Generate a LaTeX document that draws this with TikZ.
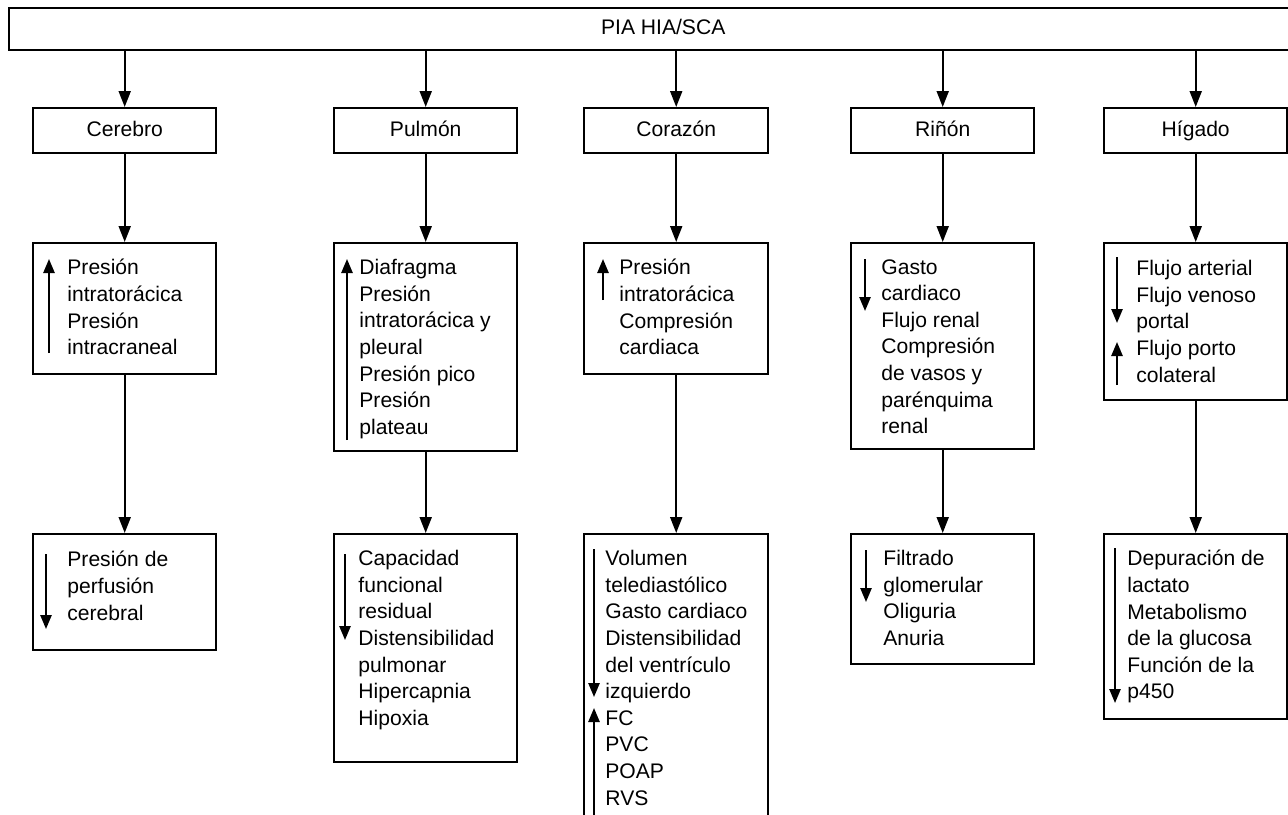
\documentclass[tikz,border=0pt]{standalone}
\usepackage{fontspec}
\setmainfont{Liberation Sans}
\usetikzlibrary{arrows.meta}

\tikzset{
  box/.style={draw, line width=1.2pt, anchor=north west, minimum width=91.5pt,
    inner sep=0pt, text height=7.7pt, text depth=2.2pt,
    font=\fontsize{10.55}{13.3}\selectfont},
  lst/.style={align=left, anchor=north west, inner sep=0pt,
    execute at begin node={\rule{0pt}{10pt}},
    font=\fontsize{10.55}{13.3}\selectfont},
  trend/.style={line width=1pt, -{Triangle[length=7pt,width=5.6pt]}},
}

\begin{document}
\begin{tikzpicture}[x=0.5pt,y=-0.5pt,>={Triangle[length=8pt,width=6pt]}]
    \useasboundingbox (0,0) rectangle (1288,814);

    % top bar
    \node[box, minimum width=654pt, minimum height=21pt] (pia) at (8,7) {PIA HIA/SCA};

    % organs
    \node[box, minimum height=22.5pt] (cer1) at (32,107) {Cerebro};
    \node[box, minimum height=22.5pt] (pul1) at (333,107) {Pulmón};
    \node[box, minimum height=22.5pt, minimum width=92pt] (cor1) at (583,107) {Corazón};
    \node[box, minimum height=22.5pt] (rin1) at (850,107) {Riñón};
    \node[box, minimum height=22.5pt] (hig1) at (1103,107) {Hígado};

    % second row
    \node[box, minimum height=65.5pt] (cer2) at (32,242) {};
    \node[box, minimum height=104pt] (pul2) at (333,242) {};
    \node[box, minimum height=65.5pt, minimum width=92pt] (cor2) at (583,242) {};
    \node[box, minimum height=103pt] (rin2) at (850,242) {};
    \node[box, minimum height=78.5pt] (hig2) at (1103,242) {};

    \node[lst] (cer2t) at ([shift={(35,17)}]cer2.north west)
        {Presión\\intratorácica\\Presión\\intracraneal};
    \node[lst] (pul2t) at ([shift={(26,17)}]pul2.north west)
        {Diafragma\\Presión\\intratorácica y\\pleural\\Presión pico\\Presión\\plateau};
    \node[lst] (cor2t) at ([shift={(36,17)}]cor2.north west)
        {Presión\\intratorácica\\Compresión\\cardiaca};
    \node[lst] (rin2t) at ([shift={(31,17)}]rin2.north west)
        {Gasto\\cardiaco\\Flujo renal\\Compresión\\de vasos y\\parénquima\\renal};
    \node[lst] (hig2t) at ([shift={(33,18)}]hig2.north west)
        {Flujo arterial\\Flujo venoso\\portal\\Flujo porto\\colateral};

    % third row
    \node[box, minimum height=58pt] (cer3) at (32,533) {};
    \node[box, minimum height=114pt] (pul3) at (333,533) {};
    \node[box, minimum height=150pt, minimum width=92pt] (cor3) at (583,533) {};
    \node[box, minimum height=65pt] (rin3) at (850,533) {};
    \node[box, minimum height=92.5pt] (hig3) at (1103,533) {};

    \node[lst] (cer3t) at ([shift={(35,18)}]cer3.north west)
        {Presión de\\perfusión\\cerebral};
    \node[lst] (pul3t) at ([shift={(25,17)}]pul3.north west)
        {Capacidad\\funcional\\residual\\Distensibilidad\\pulmonar\\Hipercapnia\\Hipoxia};
    \node[lst] (cor3t) at ([shift={(22,17)}]cor3.north west)
        {Volumen\\telediastólico\\Gasto cardiaco\\Distensibilidad\\del ventrículo\\izquierdo\\FC\\PVC\\POAP\\RVS};
    \node[lst] (rin3t) at ([shift={(33,17)}]rin3.north west)
        {Filtrado\\glomerular\\Oliguria\\Anuria};
    \node[lst] (hig3t) at ([shift={(24,17)}]hig3.north west)
        {Depuración de\\lactato\\Metabolismo\\de la glucosa\\Función de la\\p450};

    % connectors
    \foreach \c in {cer,pul,cor,rin,hig}{
        \draw[->, line width=1pt] (\c1.north |- pia.south) -- (\c1.north);
        \draw[->, line width=1pt] (\c1.south) -- (\c2.north);
        \draw[->, line width=1pt] (\c2.south) -- (\c3.north);
    }

    % up and down trends
    \draw[trend] (49,353) -- (49,259);
    \draw[trend] (347,440) -- (347,259);
    \draw[trend] (603,300) -- (603,259);
    \draw[trend] (865,259) -- (865,311);
    \draw[trend] (1117,257) -- (1117,323);
    \draw[trend] (1117,385) -- (1117,342);
    \draw[trend] (46,554) -- (46,629);
    \draw[trend] (345,554) -- (345,640);
    \draw[trend] (594,549) -- (594,697);
    \draw[trend] (594,830) -- (594,708);
    \draw[trend] (866,550) -- (866,602);
    \draw[trend] (1115,548) -- (1115,703);
\end{tikzpicture}
\end{document}
